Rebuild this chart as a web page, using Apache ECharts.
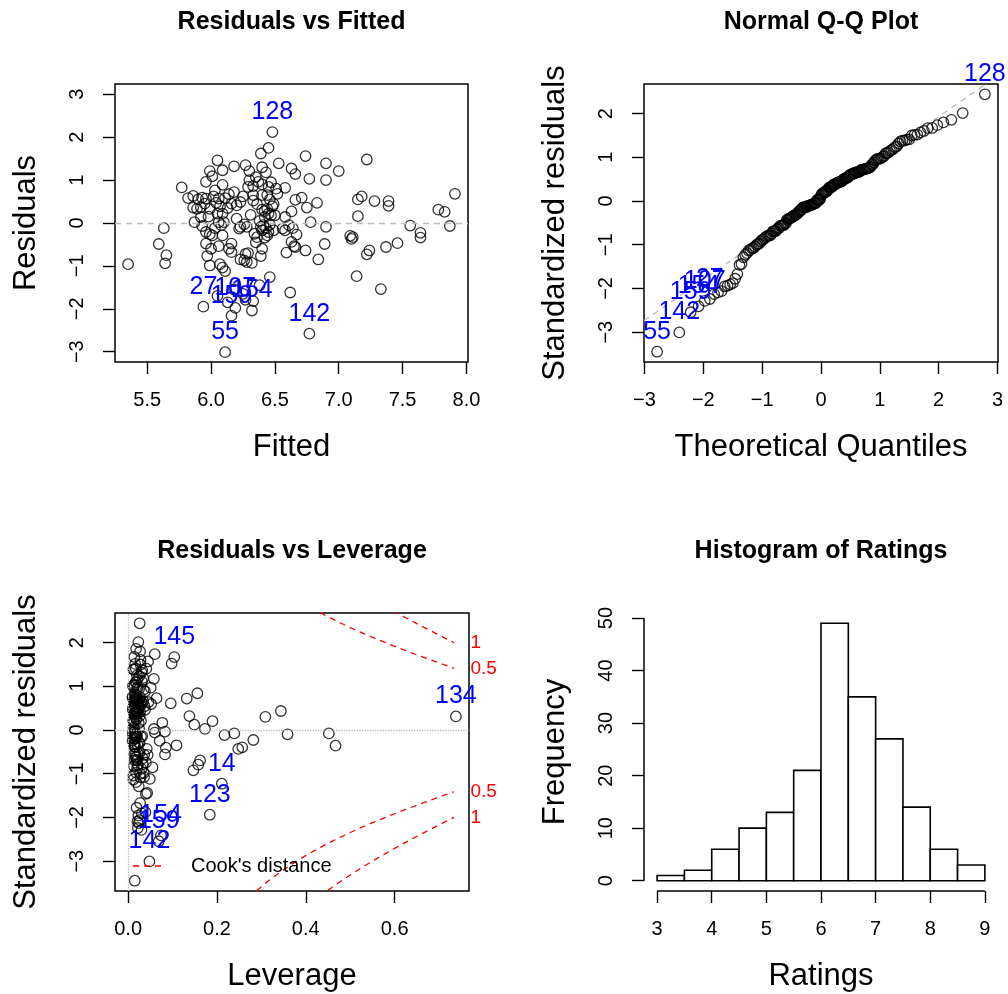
<!DOCTYPE html>
<html>
<head>
<meta charset="utf-8">
<title>Regression diagnostics for Ratings</title>
<script src="https://cdn.jsdelivr.net/npm/echarts@6/dist/echarts.min.js"></script>
<style>
  html, body { margin: 0; padding: 0; background: #fff; }
  #chart { width: 1008px; height: 994px; }
</style>
</head>
<body>
<div id="chart"></div>
<script>
// ---- model data: one entry per observation (fitted value, raw residual, hat value) ----
const fitted = [
  6.48, 6.11, 6.77, 5.94, 6.19, 6.32, 6.16, 6.90, 5.92, 5.35,
  7.33, 7.22, 6.63, 6.90, 5.77, 7.18, 7.28, 6.71, 7.91, 7.83,
  6.20, 6.78, 7.15, 6.90, 7.56, 6.58, 7.11, 7.09, 6.05, 7.78,
  7.87, 6.61, 7.64, 7.64, 6.01, 6.42, 6.26, 5.96, 7.46, 6.06,
  7.37, 7.24, 5.65, 6.41, 6.46, 6.62, 6.07, 6.27, 5.63, 5.59,
  5.64, 5.82, 5.86, 5.90, 5.93, 5.86, 5.89, 5.92, 5.87, 5.93,
  5.96, 5.99, 6.01, 6.09, 6.05, 6.03, 6.09, 5.96, 5.99, 6.04,
  6.06, 6.07, 6.09, 6.10, 5.99, 6.09, 6.00, 6.06, 5.97, 5.99,
  6.09, 6.11, 6.14, 6.18, 6.16, 6.20, 6.23, 6.16, 6.14, 6.16,
  6.18, 6.30, 6.35, 6.33, 6.37, 6.29, 6.40, 6.33, 6.40, 6.44,
  6.46, 6.45, 6.51, 6.52, 6.31, 6.23, 6.22, 6.28, 6.34, 6.36,
  6.39, 6.40, 6.44, 6.42, 6.45, 6.45, 6.47, 6.42, 6.44, 6.48,
  6.49, 6.36, 6.40, 6.50, 6.49, 6.27, 6.29, 6.23, 6.26, 6.28,
  6.32, 6.39, 6.40, 6.43, 6.39, 6.45, 6.53, 6.33, 6.27, 6.66,
  5.96, 6.74, 6.77, 7.00, 6.58, 6.66, 6.75, 6.83, 6.63, 6.58,
  6.64, 6.56, 6.67, 6.63, 6.65, 6.66, 6.74, 6.59, 6.89, 6.84,
  7.15, 7.39, 7.39, 7.10, 7.22, 7.14, 6.02, 6.11, 5.95, 6.03,
  6.08, 6.13, 6.25, 6.33, 6.38, 6.43, 6.46, 6.35, 6.47, 6.30,
  6.40, 5.98, 6.05, 6.18, 6.25, 6.38, 6.13
];
const residuals = [
  2.12, -3.01, -2.58, -1.95, -1.98, -2.04, -2.16, 1.39, 0.14, -0.96,
  -1.54, 1.48, 1.27, 1.00, 0.83, 0.62, 0.51, 0.59, 0.68, 0.26,
  0.10, 0.02, 0.16, -0.09, -0.06, -0.17, -0.33, -0.30, 0.22, 0.31,
  -0.07, -0.05, -0.23, -0.34, -0.29, 0.14, -0.03, -0.21, -0.47, 0.02,
  -0.56, -0.64, -0.75, -0.05, -1.26, -1.62, -0.96, 1.35, -0.12, -0.49,
  -0.94, 0.58, 0.63, 0.55, 0.59, 0.36, 0.33, 0.37, 0.02, -0.07,
  0.96, 1.21, 1.09, 1.23, 1.46, 0.76, 0.89, 0.57, 0.33, 0.47,
  0.57, 0.39, 0.22, 0.02, -0.26, -0.29, -0.60, -0.54, -0.77, -0.99,
  -1.04, -1.12, 0.67, 0.72, 0.45, 0.41, 0.49, -0.48, -0.60, -0.68,
  1.32, 1.21, 1.07, 0.86, 0.96, 0.84, 0.90, 0.65, 0.65, 0.65,
  0.55, 0.84, 0.80, 0.68, 0.19, -0.09, -0.13, -0.09, -0.25, -0.33,
  -0.09, -0.17, -0.29, -0.34, -0.21, 0.22, 0.18, 0.28, 0.33, 0.39,
  0.44, 0.44, 0.31, 0.18, -0.17, -0.72, -0.70, -0.85, -0.87, -0.91,
  -0.93, -0.77, -0.60, 1.18, 1.62, 1.75, 1.39, -1.82, -1.79, 1.14,
  -0.48, 1.56, 1.03, 1.21, 0.82, 0.54, 0.36, 0.47, 0.27, 0.14,
  -0.12, -0.13, -0.27, -0.44, -0.54, -0.56, -0.64, -0.69, -0.49, -0.85,
  0.55, 0.51, 0.40, -0.37, -0.73, -1.24, 0.62, 0.58, 0.45, -0.12,
  -0.05, 0.35, 0.62, 0.52, 0.05, -0.12, -0.04, -0.45, 0.95, 1.00,
  1.30, 0.15, -1.70, -1.55, -1.65, -1.45, -1.85
];
const hatValues = [
  0.026, 0.015, 0.048, 0.022, 0.030, 0.074, 0.069, 0.104, 0.738, 0.211,
  0.184, 0.060, 0.098, 0.058, 0.051, 0.064, 0.096, 0.132, 0.156, 0.138,
  0.149, 0.173, 0.190, 0.217, 0.239, 0.282, 0.248, 0.257, 0.309, 0.344,
  0.359, 0.452, 0.467, 0.085, 0.109, 0.077, 0.083, 0.071, 0.083, 0.058,
  0.162, 0.158, 0.147, 0.060, 0.040, 0.039, 0.049, 0.045, 0.032, 0.036,
  0.028, 0.024, 0.019, 0.015, 0.021, 0.027, 0.013, 0.018, 0.025, 0.016,
  0.031, 0.012, 0.020, 0.017, 0.014, 0.038, 0.011, 0.029, 0.022, 0.016,
  0.034, 0.012, 0.019, 0.014, 0.026, 0.013, 0.021, 0.017, 0.030, 0.012,
  0.018, 0.024, 0.010, 0.015, 0.023, 0.011, 0.028, 0.014, 0.019, 0.033,
  0.016, 0.013, 0.025, 0.012, 0.018, 0.022, 0.014, 0.017, 0.010, 0.027,
  0.013, 0.020, 0.035, 0.016, 0.012, 0.015, 0.019, 0.011, 0.024, 0.014,
  0.017, 0.013, 0.021, 0.016, 0.010, 0.018, 0.012, 0.026, 0.014, 0.019,
  0.011, 0.023, 0.015, 0.029, 0.016, 0.013, 0.022, 0.018, 0.027, 0.012,
  0.036, 0.020, 0.015, 0.032, 0.018, 0.023, 0.028, 0.021, 0.026, 0.030,
  0.017, 0.027, 0.034, 0.041, 0.025, 0.031, 0.022, 0.037, 0.017, 0.024,
  0.020, 0.029, 0.015, 0.026, 0.019, 0.033, 0.040, 0.021, 0.044, 0.035,
  0.046, 0.052, 0.038, 0.042, 0.055, 0.043, 0.020, 0.013, 0.024, 0.016,
  0.011, 0.019, 0.015, 0.022, 0.012, 0.018, 0.014, 0.025, 0.017, 0.021,
  0.028, 0.013, 0.023, 0.019, 0.031, 0.027, 0.024
];

// observation numbers of the rows that get an id label (rows 0..10)
const obsIds = ['128', '55', '142', '27', '107', '154', '159', '145', '134', '14', '123'];
const residLabelRows = [0, 1, 2, 3, 4, 5, 6];
const qqLabelRows = [0, 1, 2, 3, 4, 5, 6];
const leverageLabelRows = [2, 5, 6, 7, 8, 9, 10];

// model constants
const residualSE = 0.88;     // residual standard error
const nCoef = 11;            // number of model coefficients
const cookLevels = [0.5, 1];
const cookHatMax = 0.734;    // right end of the Cook's distance contours
const residLimits = [-3, 3];

// histogram of the response
const ratingBreaks = [3, 3.5, 4, 4.5, 5, 5.5, 6, 6.5, 7, 7.5, 8, 8.5, 9];
const ratingCounts = [1, 2, 6, 10, 13, 21, 49, 35, 27, 14, 6, 3];

// tick marks
const fittedTicks = [5.5, 6.0, 6.5, 7.0, 7.5, 8.0];
const residTicks = [-3, -2, -1, 0, 1, 2, 3];
const quantileTicks = [-3, -2, -1, 0, 1, 2, 3];
const stdResidTicks = [-3, -2, -1, 0, 1, 2];
const leverageTicks = [0, 0.2, 0.4, 0.6];
const ratingTicks = [3, 4, 5, 6, 7, 8, 9];
const frequencyTicks = [0, 10, 20, 30, 40, 50];

// ---- derived quantities ----
const FONT = "'Liberation Sans', Arial, Helvetica, sans-serif";
const n = fitted.length;

function extendRange(lo, hi) {            // 4% padding on each side
  const d = (hi - lo) * 0.04;
  return [lo - d, hi + d];
}

function qnorm(p) {                        // inverse normal CDF (Acklam)
  const a = [-3.969683028665376e+01, 2.209460984245205e+02, -2.759285104469687e+02, 1.383577518672690e+02, -3.066479806614716e+01, 2.506628277459239e+00];
  const b = [-5.447609879822406e+01, 1.615858368580409e+02, -1.556989798598866e+02, 6.680131188771972e+01, -1.328068155288572e+01];
  const c = [-7.784894002430293e-03, -3.223964580411365e-01, -2.400758277161838e+00, -2.549732539343734e+00, 4.374664141464968e+00, 2.938163982698783e+00];
  const d = [7.784695709041462e-03, 3.224671290700398e-01, 2.445134137142996e+00, 3.754408661907416e+00];
  const pl = 0.02425;
  let q, r;
  if (p < pl) {
    q = Math.sqrt(-2 * Math.log(p));
    return (((((c[0] * q + c[1]) * q + c[2]) * q + c[3]) * q + c[4]) * q + c[5]) / ((((d[0] * q + d[1]) * q + d[2]) * q + d[3]) * q + 1);
  }
  if (p <= 1 - pl) {
    q = p - 0.5; r = q * q;
    return (((((a[0] * r + a[1]) * r + a[2]) * r + a[3]) * r + a[4]) * r + a[5]) * q / (((((b[0] * r + b[1]) * r + b[2]) * r + b[3]) * r + b[4]) * r + 1);
  }
  q = Math.sqrt(-2 * Math.log(1 - p));
  return -(((((c[0] * q + c[1]) * q + c[2]) * q + c[3]) * q + c[4]) * q + c[5]) / ((((d[0] * q + d[1]) * q + d[2]) * q + d[3]) * q + 1);
}

function quantile7(sorted, p) {
  const h = (sorted.length - 1) * p, lo = Math.floor(h);
  return sorted[lo] + (h - lo) * (sorted[Math.min(lo + 1, sorted.length - 1)] - sorted[lo]);
}

// standardized residuals
const stdResid = residuals.map((r, i) => r / (residualSE * Math.sqrt(1 - hatValues[i])));

// normal scores for the Q-Q plot
const order = stdResid.map((v, i) => i).sort((i, j) => stdResid[i] - stdResid[j]);
const theoQ = new Array(n);
order.forEach((row, k) => { theoQ[row] = qnorm((k + 1 - 0.5) / n); });
const sortedStd = order.map(i => stdResid[i]);
const qProbs = [0.25, 0.75];
const qqY = qProbs.map(p => quantile7(sortedStd, p));
const qqX = qProbs.map(qnorm);
const qqSlope = (qqY[1] - qqY[0]) / (qqX[1] - qqX[0]);
const qqIntercept = qqY[0] - qqSlope * qqX[0];

// axis ranges
const fittedRange = extendRange(Math.min(...fitted), Math.max(...fitted));
const residRange = extendRange(residLimits[0], residLimits[1]);
const theoRange = extendRange(Math.min(...theoQ), Math.max(...theoQ));
const stdRange = extendRange(Math.min(...stdResid), Math.max(...stdResid));
const leverageRange = extendRange(0, Math.max(...hatValues));
const ratingRange = extendRange(ratingBreaks[0], ratingBreaks[ratingBreaks.length - 1]);
const countRange = extendRange(0, Math.max(...ratingCounts));

// ---- chart option ----
const grids = [
  { left: 115, top: 84, width: 353, height: 278 },
  { left: 644, top: 84, width: 354, height: 278 },
  { left: 115, top: 613, width: 354, height: 278 },
  { left: 644, top: 613, width: 354, height: 278 }
].map((g, i) => Object.assign({
  show: i < 3, borderColor: '#000', borderWidth: 1.5, backgroundColor: 'transparent', containLabel: false
}, g));

function tickText(decimals) {
  return v => Number(v).toFixed(decimals).replace('-', '\u2212');
}

function makeAxis(gridIndex, range, ticks, decimals, isY) {
  return {
    type: 'value', gridIndex: gridIndex, min: range[0], max: range[1],
    axisLine: { show: false, onZero: false },
    axisTick: { show: true, length: 12, customValues: ticks, lineStyle: { color: '#000', width: 1.4 } },
    axisLabel: {
      show: true, customValues: ticks, margin: 28, fontSize: 20, fontFamily: FONT, color: '#000',
      rotate: isY ? 90 : 0, formatter: tickText(decimals)
    },
    splitLine: { show: false }
  };
}

const xAxes = [
  makeAxis(0, fittedRange, fittedTicks, 1, false),
  makeAxis(1, theoRange, quantileTicks, 0, false),
  makeAxis(2, leverageRange, leverageTicks, 1, false),
  makeAxis(3, ratingRange, ratingTicks, 0, false)
];
const yAxes = [
  makeAxis(0, residRange, residTicks, 0, true),
  makeAxis(1, stdRange, stdResidTicks, 0, true),
  makeAxis(2, stdRange, stdResidTicks, 0, true),
  makeAxis(3, countRange, frequencyTicks, 0, true)
];

const circleStyle = { color: 'rgba(0,0,0,0)', borderColor: '#000', borderWidth: 1.3 };

function pointSeries(axis, data, markLine) {
  const s = {
    type: 'scatter', xAxisIndex: axis, yAxisIndex: axis, data: data,
    symbol: 'circle', symbolSize: 10.5, itemStyle: circleStyle, silent: true, z: 3
  };
  if (markLine) s.markLine = markLine;
  return s;
}

function idLabelSeries(axis, rows, xOf, yOf) {
  return {
    type: 'scatter', xAxisIndex: axis, yAxisIndex: axis, silent: true, z: 6, clip: false,
    symbol: 'circle', symbolSize: 1, itemStyle: { color: 'rgba(0,0,0,0)' },
    data: rows.map(r => ({ value: [xOf(r), yOf(r)], name: obsIds[r] })),
    label: {
      show: true, position: 'top', distance: 7, formatter: '{b}', opacity: 1,
      color: '#0000ff', fontSize: 25, fontFamily: FONT
    }
  };
}

const greyDashed = { color: '#bdbdbd', type: [6, 5], width: 1.3 };
const series = [];

// Residuals vs Fitted
series.push(pointSeries(0, fitted.map((f, i) => [f, residuals[i]]), {
  silent: true, symbol: ['none', 'none'], label: { show: false }, lineStyle: greyDashed,
  data: [{ yAxis: 0 }]
}));
series.push(idLabelSeries(0, residLabelRows, r => fitted[r], r => residuals[r]));

// Normal Q-Q
series.push(pointSeries(1, stdResid.map((s, i) => [theoQ[i], s])));
series.push({
  type: 'line', xAxisIndex: 1, yAxisIndex: 1, silent: true, clip: true, symbol: 'none', z: 2,
  lineStyle: greyDashed,
  data: theoRange.map(x => [x, qqIntercept + qqSlope * x])
});
series.push(idLabelSeries(1, qqLabelRows, r => theoQ[r], r => stdResid[r]));

// Residuals vs Leverage
series.push(pointSeries(2, hatValues.map((h, i) => [h, stdResid[i]]), {
  silent: true, symbol: ['none', 'none'], label: { show: false },
  lineStyle: { color: '#bdbdbd', type: 'dotted', width: 1.3 },
  data: [{ yAxis: 0 }, { xAxis: 0 }]
}));
const cookStart = Math.min(Math.min(...hatValues), Math.max(...hatValues) / 100);
const cookSteps = 100;
cookLevels.forEach(level => {
  [1, -1].forEach(sign => {
    const pts = [];
    for (let k = 0; k <= cookSteps; k++) {
      const h = cookStart + (cookHatMax - cookStart) * k / cookSteps;
      pts.push([h, sign * Math.sqrt(level * nCoef * (1 - h) / h)]);
    }
    series.push({
      type: 'line', xAxisIndex: 2, yAxisIndex: 2, silent: true, clip: true, symbol: 'none', z: 4,
      lineStyle: { color: '#ff0000', type: [6, 5], width: 1.3 }, data: pts
    });
  });
});
// contour level labels on the right edge of the panel
const cookTicks = [];
cookLevels.forEach(level => {
  const aty = Math.sqrt(level * nCoef * (1 - cookHatMax) / cookHatMax);
  cookTicks.push({ value: [leverageRange[1], aty], name: String(level) });
  cookTicks.push({ value: [leverageRange[1], -aty], name: String(level) });
});
series.push({
  type: 'scatter', xAxisIndex: 2, yAxisIndex: 2, silent: true, clip: false, z: 6,
  symbol: 'circle', symbolSize: 1, itemStyle: { color: 'rgba(0,0,0,0)' }, data: cookTicks,
  label: { show: true, position: 'right', distance: 1, formatter: '{b}', opacity: 1, color: '#ff0000', fontSize: 19, fontFamily: FONT }
});
series.push(idLabelSeries(2, leverageLabelRows, r => hatValues[r], r => stdResid[r]));

// Histogram of Ratings
series.push({
  type: 'custom', xAxisIndex: 3, yAxisIndex: 3, silent: true,
  data: ratingCounts.map((c, i) => [ratingBreaks[i], ratingBreaks[i + 1], c]),
  encode: { x: [0, 1], y: 2 },
  renderItem: (params, api) => {
    const p0 = api.coord([api.value(0), 0]);
    const p1 = api.coord([api.value(1), api.value(2)]);
    return {
      type: 'rect',
      shape: { x: p0[0], y: p1[1], width: p1[0] - p0[0], height: p0[1] - p1[1] },
      style: { fill: '#ffffff', stroke: '#000000', lineWidth: 1.6 }
    };
  }
});
// histogram axis lines spanning the first to the last tick
series.push({
  type: 'line', xAxisIndex: 3, yAxisIndex: 3, silent: true, clip: false, symbol: 'none',
  lineStyle: { color: '#000', width: 1.5 },
  data: [[ratingTicks[0], countRange[0]], [ratingTicks[ratingTicks.length - 1], countRange[0]]]
});
series.push({
  type: 'line', xAxisIndex: 3, yAxisIndex: 3, silent: true, clip: false, symbol: 'none',
  lineStyle: { color: '#000', width: 1.5 },
  data: [[ratingRange[0], frequencyTicks[0]], [ratingRange[0], frequencyTicks[frequencyTicks.length - 1]]]
});

// ---- titles and axis names ----
function txt(text, x, y, size, opts) {
  opts = opts || {};
  return {
    type: 'text', x: x, y: y, rotation: opts.rotation || 0, silent: true, z: 10,
    style: {
      text: text, fill: '#000', textAlign: opts.align || 'center', textVerticalAlign: 'middle',
      font: (opts.bold ? 'bold ' : '') + size + 'px ' + FONT
    }
  };
}
const up = Math.PI / 2;
const graphics = [
  txt('Residuals vs Fitted', 291.5, 22, 25, { bold: true }),
  txt('Normal Q-Q Plot', 821, 22, 25, { bold: true }),
  txt('Residuals vs Leverage', 292, 551, 25, { bold: true }),
  txt('Histogram of Ratings', 821, 551, 25, { bold: true }),
  txt('Fitted', 291.5, 447, 31),
  txt('Theoretical Quantiles', 821, 447, 31),
  txt('Leverage', 292, 976, 31),
  txt('Ratings', 821, 976, 31),
  txt('Residuals', 26, 223, 31, { rotation: up }),
  txt('Standardized residuals', 555, 223, 31, { rotation: up }),
  txt('Standardized residuals', 26, 752, 31, { rotation: up }),
  txt('Frequency', 555, 752, 31, { rotation: up }),
  txt('Cook\'s distance', 191, 866, 20, { align: 'left' }),
  {
    type: 'line', silent: true, z: 10,
    shape: { x1: 133, y1: 866, x2: 166, y2: 866 },
    style: { stroke: '#ff0000', lineWidth: 1.3, lineDash: [6, 5] }
  }
];

const chart = echarts.init(document.getElementById('chart'), null, { renderer: 'canvas' });
chart.setOption({
  animation: false,
  backgroundColor: '#ffffff',
  grid: grids,
  xAxis: xAxes,
  yAxis: yAxes,
  series: series,
  graphic: graphics
});
</script>
</body>
</html>
